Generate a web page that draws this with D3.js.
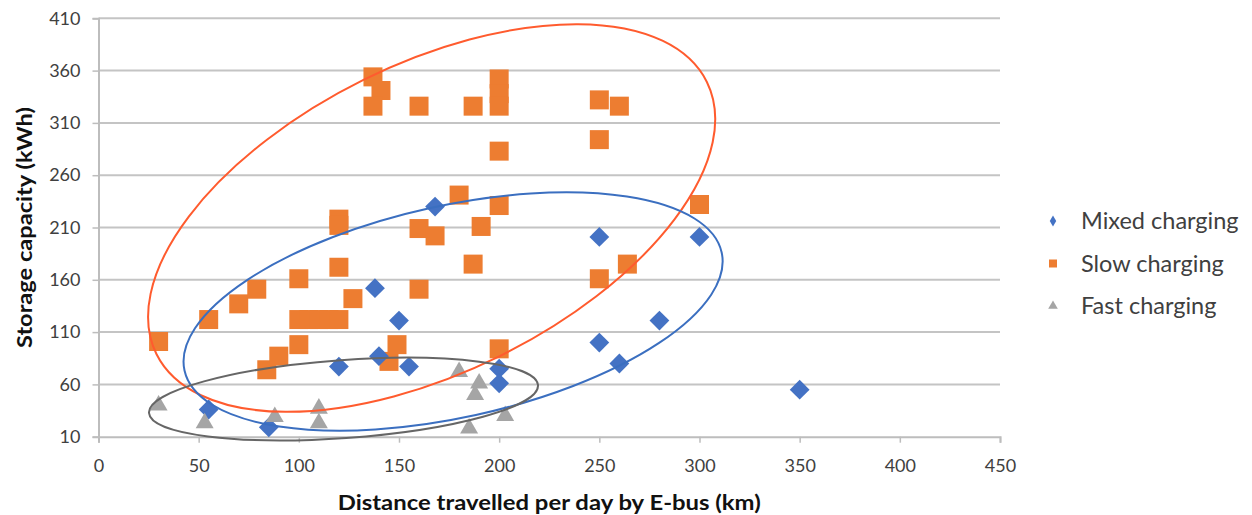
<!DOCTYPE html>
<html>
<head>
<meta charset="utf-8">
<script src="https://cdn.jsdelivr.net/npm/d3@7"></script>
<style>
  body { margin: 0; background: #fff; }
  text { font-family: Lato, "Open Sans", sans-serif; }
</style>
</head>
<body>
<div id="chart"></div>
<script>
// Mixed charging (diamonds)
const mixedKm = [55, 85, 120, 138, 140, 150, 155, 168, 200, 200, 250, 250, 260, 280, 300, 350];
const mixedKwh = [36, 19, 77, 152, 87, 121, 77, 230, 75, 61, 201, 100, 80, 121, 201, 55];

// Slow charging (squares)
const slowKm = [30, 55, 70, 79, 84, 90, 100, 100, 100, 105, 110, 115, 120, 120, 120, 120, 127,
  137, 141, 137, 145, 149, 160, 160, 160, 168, 180, 187, 187, 191,
  200, 200, 200, 200, 200, 200, 250, 260, 250, 250, 264, 300];
const slowKwh = [101, 122, 137, 151, 74, 87, 98, 161, 122, 122, 122, 122, 122, 172, 218, 212, 142,
  354, 341, 326, 82, 98, 326, 209, 151, 202, 241, 326, 175, 211,
  352, 338, 326, 283, 231, 94, 332, 326, 294, 161, 175, 232];

// Fast charging (triangles)
const fastKm = [30, 53, 88, 110, 110, 180, 190, 188, 185, 203];
const fastKwh = [40, 23, 29, 37, 23, 72, 61, 50, 18, 30];

const xTicks = [0, 50, 100, 150, 200, 250, 300, 350, 400, 450];
const yTicks = [10, 60, 110, 160, 210, 260, 310, 360, 410];

// group ellipses: centre in data units, semi-axes in px, tilt in degrees
const groupNames = ['slow', 'mixed', 'fast'];
const groupCx = [166.3, 177, 122.3];
const groupCy = [219.1, 129.7, 46];
const groupRx = [307, 275, 195];
const groupRy = [154, 106, 39];
const groupTilt = [26.3, 12.4, 4.1];
const groupColors = ['#ff5b2e', '#3b6fc0', '#666666'];

const width = 1252, height = 515;
const svg = d3.select('#chart').append('svg')
  .attr('width', width)
  .attr('height', height);

const x = d3.scaleLinear().domain([0, 450]).range([98.5, 1000]);
const y = d3.scaleLinear().domain([10, 410]).range([436.7, 18.3]);

// Gridlines
svg.append('g')
  .selectAll('line')
  .data(yTicks.filter(d => d > 10))
  .enter().append('line')
    .attr('x1', x(0))
    .attr('x2', x(450))
    .attr('y1', d => y(d))
    .attr('y2', d => y(d))
    .attr('stroke', '#c4c4c4')
    .attr('stroke-width', 2);

// Axes
const xAxis = svg.append('g')
  .attr('transform', `translate(0,${y(10)})`)
  .call(d3.axisBottom(x).tickValues(xTicks).tickSize(6).tickPadding(17));
const yAxis = svg.append('g')
  .attr('transform', `translate(${x(0)},0)`)
  .call(d3.axisLeft(y).tickValues(yTicks).tickSize(6).tickPadding(12));

[xAxis, yAxis].forEach(a => {
  a.select('.domain').attr('stroke', '#bdbdbd').attr('stroke-width', 2);
  a.selectAll('.tick line').attr('stroke', '#bdbdbd').attr('stroke-width', 1.5);
  a.selectAll('.tick text')
    .attr('fill', '#404040')
    .style('font-size', '18px')
    .style('font-family', 'Lato, "Open Sans", sans-serif');
});

// Axis titles
svg.append('text')
  .attr('x', x(225))
  .attr('y', 510)
  .attr('text-anchor', 'middle')
  .attr('font-weight', 'bold')
  .attr('font-size', 21)
  .attr('textLength', 423)
  .attr('lengthAdjust', 'spacingAndGlyphs')
  .attr('fill', '#111')
  .text('Distance travelled per day by E-bus (km)');

svg.append('text')
  .attr('transform', `translate(32,${y(210)}) rotate(-90)`)
  .attr('text-anchor', 'middle')
  .attr('font-weight', 'bold')
  .attr('font-size', 20)
  .attr('textLength', 241)
  .attr('lengthAdjust', 'spacingAndGlyphs')
  .attr('fill', '#111')
  .text('Storage capacity (kWh)');

// Markers
const slowData = slowKm.map((k, i) => ({ km: k, kwh: slowKwh[i] }));
const mixedData = mixedKm.map((k, i) => ({ km: k, kwh: mixedKwh[i] }));
const fastData = fastKm.map((k, i) => ({ km: k, kwh: fastKwh[i] }));

const marks = svg.append('g');

marks.selectAll('.slow')
  .data(slowData)
  .enter().append('path')
    .attr('class', 'slow')
    .attr('d', d3.symbol(d3.symbolSquare, 19 * 19)())
    .attr('fill', '#ed7d31')
    .attr('transform', d => `translate(${x(d.km)},${y(d.kwh)})`);

marks.selectAll('.mixed')
  .data(mixedData)
  .enter().append('path')
    .attr('class', 'mixed')
    .attr('d', d3.symbol(d3.symbolSquare, 14 * 14)())
    .attr('fill', '#4472c4')
    .attr('transform', d => `translate(${x(d.km)},${y(d.kwh)}) rotate(45)`);

marks.selectAll('.fast')
  .data(fastData)
  .enter().append('path')
    .attr('class', 'fast')
    .attr('d', d3.symbol(d3.symbolTriangle, 140)())
    .attr('fill', '#a5a5a5')
    .attr('transform', d => `translate(${x(d.km)},${y(d.kwh)})`);

// Group ellipses drawn over markers
svg.append('g')
  .selectAll('ellipse')
  .data(groupNames)
  .enter().append('ellipse')
    .attr('rx', (d, i) => groupRx[i])
    .attr('ry', (d, i) => groupRy[i])
    .attr('transform', (d, i) => `translate(${x(groupCx[i])},${y(groupCy[i])}) rotate(${-groupTilt[i]})`)
    .attr('fill', 'none')
    .attr('stroke', (d, i) => groupColors[i])
    .attr('stroke-width', 2);

// Legend
const legendLabels = ['Mixed charging', 'Slow charging', 'Fast charging'];
const legendColors = ['#4472c4', '#ed7d31', '#a5a5a5'];
const legendSymbols = [d3.symbolDiamond, d3.symbolSquare, d3.symbolTriangle];
const legendSizes = [36, 64, 40];

const legend = svg.append('g')
  .selectAll('g')
  .data(legendLabels)
  .enter().append('g')
    .attr('transform', (d, i) => `translate(1053,${221 + i * 42.5})`);

legend.append('path')
  .attr('d', (d, i) => d3.symbol(legendSymbols[i], legendSizes[i])())
  .attr('fill', (d, i) => legendColors[i]);

legend.append('text')
  .attr('x', 28)
  .attr('dy', '0.35em')
  .attr('font-size', 23.5)
  .attr('fill', '#404040')
  .text(d => d);
</script>
</body>
</html>
